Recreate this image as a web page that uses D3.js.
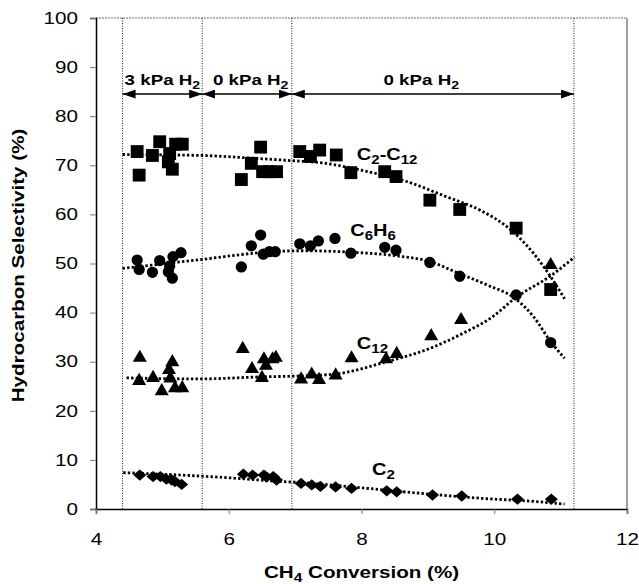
<!DOCTYPE html>
<html>
<head>
<meta charset="utf-8">
<script src="https://cdn.jsdelivr.net/npm/d3@7"></script>
<style>
  body { margin: 0; background: #fff; }
  text { font-family: "Liberation Sans", Arial, sans-serif; fill: #000; }
</style>
</head>
<body>
<div class="chart-container"></div>
<script>
// Values
const x_ticks = [4, 6, 8, 10, 12];
const y_ticks = [0, 10, 20, 30, 40, 50, 60, 70, 80, 90, 100];

// C2-C12 (squares)
const sq_x = [4.62, 4.65, 4.85, 4.96, 5.09, 5.11, 5.15, 5.2, 5.3, 6.19, 6.34, 6.48, 6.51, 6.61, 6.72, 7.07, 7.23, 7.37, 7.62, 7.84, 8.35, 8.52, 9.03, 9.48, 10.33, 10.85];
const sq_y = [72.8, 68.0, 72.0, 74.8, 70.7, 72.4, 69.2, 74.3, 74.3, 67.1, 70.4, 73.7, 68.7, 68.7, 68.7, 72.8, 71.8, 73.1, 72.1, 68.5, 68.7, 67.7, 62.9, 61.0, 57.2, 44.7];
// C6H6 (circles)
const ci_x = [4.62, 4.65, 4.85, 4.96, 5.09, 5.11, 5.15, 5.16, 5.28, 6.19, 6.34, 6.48, 6.52, 6.61, 6.70, 7.07, 7.23, 7.35, 7.6, 7.84, 8.35, 8.52, 9.03, 9.48, 10.33, 10.85];
const ci_y = [50.7, 48.8, 48.2, 50.6, 48.3, 49.5, 47.0, 51.4, 52.2, 49.3, 53.6, 55.8, 51.9, 52.4, 52.4, 54.0, 53.6, 54.6, 55.1, 52.1, 53.3, 52.7, 50.2, 47.4, 43.6, 33.9];
// C12 (triangles)
const tr_x = [4.66, 4.65, 4.86, 4.99, 5.1, 5.12, 5.15, 5.19, 5.3, 6.21, 6.35, 6.5, 6.53, 6.56, 6.66, 6.71, 7.09, 7.25, 7.36, 7.61, 7.85, 8.37, 8.53, 9.05, 9.5, 10.85];
const tr_y = [30.8, 26.1, 26.7, 24.0, 28.3, 26.6, 29.9, 24.6, 24.6, 32.6, 28.5, 26.7, 30.5, 29.2, 30.5, 30.8, 26.4, 27.4, 26.3, 27.2, 30.7, 30.5, 31.6, 35.2, 38.5, 49.7];
// C2 (diamonds)
const di_x = [4.66, 4.86, 4.97, 5.06, 5.14, 5.19, 5.29, 6.22, 6.36, 6.53, 6.57, 6.67, 6.72, 7.09, 7.25, 7.38, 7.61, 7.85, 8.38, 8.53, 9.07, 9.51, 10.35, 10.86];
const di_y = [6.9, 6.6, 6.6, 6.1, 5.9, 5.6, 5.0, 7.1, 6.9, 6.9, 6.5, 6.6, 5.9, 5.2, 4.9, 4.6, 4.5, 4.2, 3.7, 3.5, 2.85, 2.65, 2.0, 2.0];

// dotted trend lines
const trend_sq_x = [4.4, 5.6, 6.3, 7.0, 7.4, 8.0, 8.68, 9.28, 9.78, 10.19, 10.59, 10.85, 11.06];
const trend_sq_y = [72.2, 72.0, 71.5, 70.9, 70.5, 69.0, 66.7, 63.6, 60.9, 57.5, 52.1, 47.3, 42.8];
const trend_ci_x = [4.4, 5.58, 6.47, 7.07, 7.84, 8.5, 9.03, 9.48, 9.88, 10.33, 10.59, 10.85, 11.06];
const trend_ci_y = [49.0, 50.8, 52.2, 52.6, 52.3, 51.6, 50.4, 47.9, 45.7, 42.7, 39.2, 34.1, 30.7];
const trend_tr_x = [4.46, 5.58, 6.47, 7.07, 7.61, 8.38, 9.03, 9.53, 9.98, 10.31, 10.85, 11.21];
const trend_tr_y = [26.7, 26.5, 26.9, 27.1, 27.5, 30.0, 32.7, 35.8, 39.2, 42.9, 47.5, 51.3];
const trend_di_x = [4.41, 5.58, 6.17, 6.77, 7.07, 7.85, 8.88, 9.78, 10.64, 11.06];
const trend_di_y = [7.4, 6.7, 6.2, 5.6, 5.4, 4.5, 3.2, 2.2, 1.5, 1.0];

// H2 pressure regions
const region_x = [4.4, 5.6, 6.95, 11.2];
const region_labels = ['3 kPa H', '0 kPa H', '0 kPa H'];
const region_label_x = [5.0, 6.33, 8.9];
const arrow_y = 84.5;
const region_label_y = 86.3;

// series labels
const series_names = [['C', '2', '-C', '12'], ['C', '6', 'H', '6'], ['C', '12'], ['C', '2']];
const series_label_x = [7.93, 7.83, 7.93, 8.16];
const series_label_y = [71.1, 55.6, 32.6, 6.9];

// Setting up the frame measurements
const margin = {top: 18, bottom: 75, left: 96, right: 12};
const width = 639 - margin.left - margin.right;
const height = 584 - margin.top - margin.bottom;
const stretch = 1.25; // text in the scan is wider than normal

const x_scale = d3.scaleLinear().domain([4, 12]).range([0, width]);
const y_scale = d3.scaleLinear().domain([0, 100]).range([height, 0]);

const svg = d3.select('.chart-container')
   .append('svg')
   .attr('width', width + margin.left + margin.right)
   .attr('height', height + margin.top + margin.bottom);

svg.append('defs').append('marker')
   .attr('id', 'head')
   .attr('markerUnits', 'userSpaceOnUse')
   .attr('markerWidth', 13).attr('markerHeight', 9)
   .attr('refX', 13).attr('refY', 4.5)
   .attr('orient', 'auto-start-reverse')
   .append('path')
   .attr('d', 'M0,0 L13,4.5 L0,9 Z')
   .attr('fill', '#000');

const chart = svg.append('g')
   .attr('transform', `translate(${margin.left}, ${margin.top})`);

// frame: dotted top, thin right edge
chart.append('line')
   .attr('x1', 0).attr('x2', width).attr('y1', 0).attr('y2', 0)
   .attr('stroke', '#666').attr('stroke-dasharray', '2,1');
chart.append('line')
   .attr('x1', width).attr('x2', width).attr('y1', 0).attr('y2', height)
   .attr('stroke', '#444');

// region separators
chart.append('g').selectAll('line')
   .data(region_x)
   .join('line')
   .attr('x1', d => x_scale(d)).attr('x2', d => x_scale(d))
   .attr('y1', 0).attr('y2', height)
   .attr('stroke', '#222').attr('stroke-width', 1)
   .attr('stroke-dasharray', '1,1.5');

// axes
const y_axis = chart.append('g')
   .call(d3.axisLeft(y_scale).tickValues(y_ticks).tickSize(6).tickFormat(d3.format('d')));
const x_axis = chart.append('g')
   .attr('transform', `translate(0, ${height})`)
   .call(d3.axisBottom(x_scale).tickValues(x_ticks).tickSize(5).tickFormat(d3.format('d')));

[x_axis, y_axis].forEach(a => {
   a.select('.domain').attr('stroke', '#000').attr('stroke-width', 1.5);
   a.selectAll('.tick line').attr('stroke', '#777');
   a.selectAll('.tick text')
      .attr('font-size', 16.5)
      .attr('fill', '#111')
      .attr('font-family', '"Liberation Sans", Arial, sans-serif');
});
y_axis.selectAll('.tick text').attr('x', -14.4).attr('transform', `scale(${stretch},1)`);
x_axis.selectAll('.tick text').attr('y', 24).attr('transform', `scale(${stretch},1)`);

// text helper: list of parts, odd ones are subscripts
function add_label(parent, x, y, parts, size, anchor) {
   const t = parent.append('text')
      .attr('transform', `translate(${x}, ${y}) scale(${stretch},1)`)
      .attr('font-size', size)
      .attr('font-weight', 'bold')
      .attr('text-anchor', anchor || 'start');
   parts.forEach((p, i) => {
      const sub = i % 2 === 1;
      t.append('tspan')
         .attr('font-size', sub ? size * 0.75 : size)
         .attr('dy', sub ? 4 : (i > 0 ? -4 : 0))
         .text(p);
   });
   return t;
}

// region arrows and labels
for (let i = 0; i < region_x.length - 1; i++) {
   chart.append('line')
      .attr('x1', x_scale(region_x[i])).attr('x2', x_scale(region_x[i + 1]))
      .attr('y1', y_scale(arrow_y)).attr('y2', y_scale(arrow_y))
      .attr('stroke', '#000').attr('stroke-width', 1.5)
      .attr('marker-start', 'url(#head)')
      .attr('marker-end', 'url(#head)');
   add_label(chart, x_scale(region_label_x[i]), y_scale(region_label_y),
      [region_labels[i], '2'], 15, 'middle');
}

// trend lines
const trend_line = d3.line()
   .x(d => x_scale(d[0]))
   .y(d => y_scale(d[1]))
   .curve(d3.curveMonotoneX);
const trends = [
   [trend_sq_x, trend_sq_y], [trend_ci_x, trend_ci_y],
   [trend_tr_x, trend_tr_y], [trend_di_x, trend_di_y]
];
chart.append('g').selectAll('path')
   .data(trends)
   .join('path')
   .attr('d', d => trend_line(d[0].map((x, i) => [x, d[1][i]])))
   .attr('fill', 'none')
   .attr('stroke', '#000')
   .attr('stroke-width', 2.8)
   .attr('stroke-dasharray', '2.4,2.2');

// markers
function draw_points(xs, ys, symbol, size, rotate) {
   chart.append('g').selectAll('path')
      .data(xs.map((x, i) => [x, ys[i]]))
      .join('path')
      .attr('d', d3.symbol().type(symbol).size(size))
      .attr('transform', d => `translate(${x_scale(d[0])}, ${y_scale(d[1])})` + (rotate ? ' scale(1.15,1) rotate(45)' : ''))
      .attr('fill', '#000');
}
draw_points(sq_x, sq_y, d3.symbolSquare, 165);
draw_points(ci_x, ci_y, d3.symbolCircle, 100);
draw_points(tr_x, tr_y, d3.symbolTriangle, 85);
draw_points(di_x, di_y, d3.symbolSquare, 64, true);

// series labels
series_names.forEach((parts, i) => {
   add_label(chart, x_scale(series_label_x[i]), y_scale(series_label_y[i]), parts, 16);
});

// axis titles
add_label(svg, margin.left + width / 2, 578, ['CH', '4', ' Conversion (%)'], 16.5, 'middle');
svg.append('text')
   .attr('transform', `translate(24, ${margin.top + height / 2 + 2}) rotate(-90) scale(${stretch},1)`)
   .attr('text-anchor', 'middle')
   .attr('font-size', 16.5)
   .attr('font-weight', 'bold')
   .text('Hydrocarbon Selectivity (%)');
</script>
</body>
</html>
